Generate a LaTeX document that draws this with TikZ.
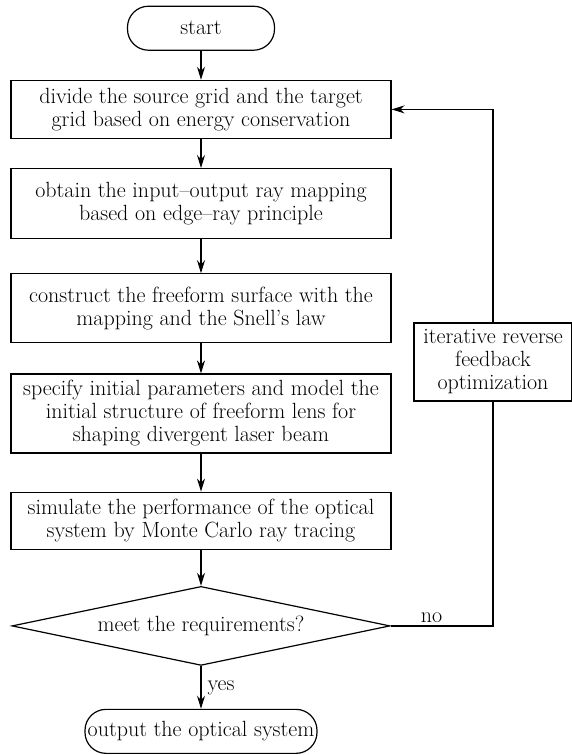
\documentclass[tikz,border=0pt]{standalone}
\usetikzlibrary{shapes.geometric,arrows.meta}
\begin{document}
\begin{tikzpicture}[x=1pt, y=1pt,
    every node/.style = {font=\fontsize{22}{23}\selectfont, inner sep=0pt, line width=1.2pt},
    terminal/.style = {draw, rounded corners=21pt, minimum height=44pt},
    process/.style = {draw, align=center, minimum width=380pt},
    decision/.style = {draw, diamond, aspect=4.8, minimum width=378pt, minimum height=79pt},
    flow/.style = {-{Stealth[length=13pt, width=8pt]}, line width=1.2pt}
]
    \useasboundingbox (0,0) rectangle (572,-755);
    \matrix (chart) [anchor=north, inner sep=0pt, row sep=29pt] at (201,-5) {
        \node[terminal, minimum width=147pt] (start) {start}; \\
        \node[process, minimum height=58pt] (divide) {divide the source grid and the target\\grid based on energy conservation}; \\
        \node[process, minimum height=70pt] (mapping) {obtain the input--output ray mapping\\based on edge--ray principle}; \\[5pt]
        \node[process, minimum height=69pt] (surface) {construct the freeform surface with the\\mapping and the Snell's law}; \\[1pt]
        \node[process, minimum height=79pt] (model) {specify initial parameters and model the\\initial structure of freeform lens for\\shaping divergent laser beam}; \\[9pt]
        \node[process, minimum height=57pt] (simulate) {simulate the performance of the optical\\system by Monte Carlo ray tracing}; \\[7pt]
        \node[decision] (check) {meet the requirements?}; \\[14pt]
        \node[terminal, minimum width=232pt] (output) {output the optical system}; \\
    };
    \node[process, minimum width=158pt, minimum height=78pt] (feedback) at (493,-362) {iterative reverse\\feedback\\optimization};

    \draw[flow] (start) -- (divide);
    \draw[flow] (divide) -- (mapping);
    \draw[flow] (mapping) -- (surface);
    \draw[flow] (surface) -- (model);
    \draw[flow] (model) -- (simulate);
    \draw[flow] (simulate) -- (check);
    \draw[flow] (check) -- node[right=6pt] {yes} (output);
    \draw[line width=1.2pt] (check.east) -- node[above=3pt, pos=0.4] {no} (check.east -| feedback.south) -- (feedback.south);
    \draw[flow] (feedback.north) |- (divide.east);
\end{tikzpicture}
\end{document}
